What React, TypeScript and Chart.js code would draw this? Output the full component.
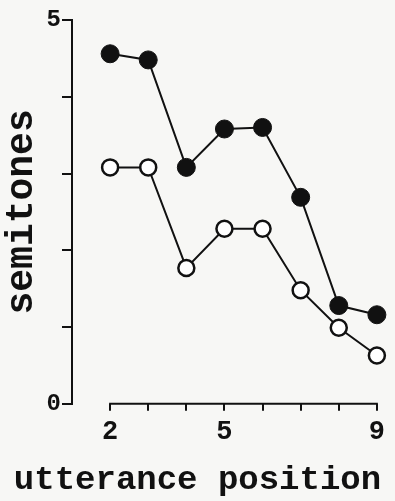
import React, { useEffect, useRef } from "react";
import { Chart, registerables } from "chart.js";

Chart.register(...registerables);

const positions = [2, 3, 4, 5, 6, 7, 8, 9];
const filledSeries = [4.56, 4.48, 3.08, 3.58, 3.6, 2.69, 1.28, 1.16];
const openSeries = [3.08, 3.08, 1.77, 2.28, 2.28, 1.48, 0.99, 0.63];
const xLabeled = [2, 5, 9];
const yTicks = [0, 1, 2, 3, 4, 5];
const yLabeled = [0, 5];

const FONT = "'Liberation Mono', 'DejaVu Sans Mono', monospace";
const INK = "#111111";

const xBaseline = {
  id: "xBaseline",
  afterDraw(chart: any) {
    const sx = chart.scales.x;
    const y = chart.chartArea.bottom;
    const ctx = chart.ctx;
    ctx.save();
    ctx.strokeStyle = INK;
    ctx.lineWidth = 2;
    ctx.beginPath();
    ctx.moveTo(sx.getPixelForValue(positions[0]) - 1, y);
    ctx.lineTo(sx.getPixelForValue(positions[positions.length - 1]) + 1, y);
    ctx.stroke();
    ctx.restore();
  },
};

export default function App() {
  const ref = useRef<HTMLCanvasElement | null>(null);
  useEffect(() => {
    if (!ref.current) return;
    const chart = new Chart(ref.current, {
      type: "scatter",
      data: {
        datasets: [
          {
            label: "filled",
            data: positions.map((x, i) => ({ x, y: filledSeries[i] })),
            showLine: true,
            borderColor: INK,
            borderWidth: 2,
            pointRadius: 9,
            pointBorderWidth: 1,
            pointBackgroundColor: INK,
            pointBorderColor: INK,
          },
          {
            label: "open",
            data: positions.map((x, i) => ({ x, y: openSeries[i] })),
            showLine: true,
            borderColor: INK,
            borderWidth: 2,
            pointRadius: 8,
            pointBorderWidth: 2.5,
            pointBackgroundColor: "#ffffff",
            pointBorderColor: INK,
          },
        ],
      },
      options: {
        animation: false,
        responsive: false,
        maintainAspectRatio: false,
        clip: false,
        layout: { padding: { top: 20, right: 0, left: 0, bottom: 0 } },
        plugins: {
          legend: { display: false },
          tooltip: { enabled: false },
          title: {
            display: true,
            position: "bottom",
            text: "utterance position",
            color: INK,
            font: { family: FONT, size: 34, weight: "bold" },
            padding: { top: 7, bottom: 0 },
          },
        },
        scales: {
          x: {
            type: "linear",
            min: 1.0,
            max: 9.2,
            afterBuildTicks: (axis: any) => {
              axis.ticks = positions.map((v) => ({ value: v }));
            },
            border: { display: false },
            grid: {
              drawOnChartArea: false,
              drawTicks: true,
              tickLength: 7,
              color: INK,
              lineWidth: 2,
            },
            ticks: {
              autoSkip: false,
              maxRotation: 0,
              color: INK,
              padding: 5,
              font: { family: FONT, size: 27, weight: "bold" },
              callback: (v: any) => (xLabeled.includes(Number(v)) ? String(v) : ""),
            },
          },
          y: {
            type: "linear",
            min: 0,
            max: 5,
            afterBuildTicks: (axis: any) => {
              axis.ticks = yTicks.map((v) => ({ value: v }));
            },
            border: { display: true, color: INK, width: 2 },
            grid: {
              drawOnChartArea: false,
              drawTicks: true,
              tickLength: 10,
              color: INK,
              lineWidth: 2,
            },
            ticks: {
              autoSkip: false,
              color: INK,
              padding: 1,
              font: { family: FONT, size: 24, weight: "bold" },
              callback: (v: any) => (yLabeled.includes(Number(v)) ? String(v) : ""),
            },
            title: {
              display: true,
              text: "semitones",
              color: INK,
              font: { family: FONT, size: 38, weight: "bold" },
              padding: { top: 0, bottom: 0 },
            },
          },
        },
      },
      plugins: [xBaseline],
    });
    return () => chart.destroy();
  }, []);
  return (
    <div
      style={{
        position: "fixed",
        left: 0,
        top: 0,
        width: 395,
        height: 501,
        background: "#f7f7f5",
      }}
    >
      <canvas ref={ref} width={395} height={501} style={{ width: 395, height: 501 }} />
    </div>
  );
}
